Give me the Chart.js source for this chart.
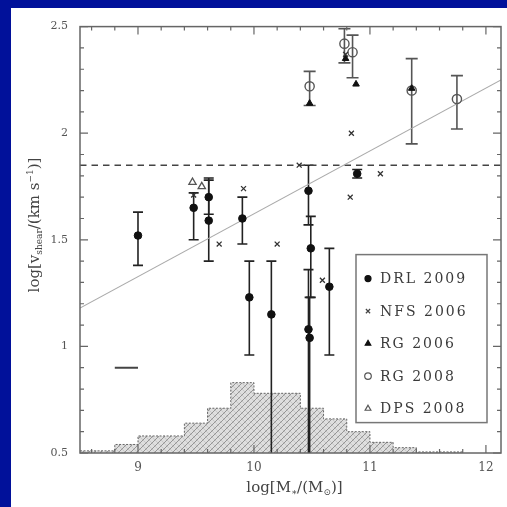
<!DOCTYPE html>
<html>
<head>
<meta charset="utf-8">
<script src="https://cdn.jsdelivr.net/npm/chart.js@4.4.1/dist/chart.umd.min.js"></script>
<style>
  html, body { margin: 0; padding: 0; }
  body { width: 507px; height: 507px; background: #01119a; overflow: hidden; position: relative; }
  #panel { position: absolute; left: 11px; top: 8px; width: 496px; height: 499px; background: #fff; }
</style>
</head>
<body>
<div id="panel"><canvas id="myChart" width="496" height="499"></canvas></div>
<script>
// DRL 2009 (filled circles with error bars)
const drlX  = [9.00, 9.48, 9.61, 9.61, 9.90, 9.96, 10.15, 10.47, 10.49, 10.47, 10.48, 10.65, 10.89];
const drlY  = [1.52, 1.65, 1.70, 1.59, 1.60, 1.23, 1.15, 1.73, 1.46, 1.08, 1.04, 1.28, 1.81];
const drlLo = [1.38, 1.50, 1.62, 1.40, 1.48, 0.96, 0.30, 1.57, 1.23, 0.30, 0.30, 0.96, 1.79];
const drlHi = [1.63, 1.72, 1.79, 1.78, 1.70, 1.40, 1.40, 1.85, 1.61, 1.36, 1.23, 1.46, 1.83];

// NFS 2006 (crosses)
const nfsX = [9.48, 9.70, 9.91, 10.20, 10.39, 10.59, 10.83, 10.84, 11.09, 10.79];
const nfsY = [1.71, 1.48, 1.74, 1.48, 1.85, 1.31, 1.70, 2.00, 1.81, 2.37];

// RG 2006 (filled triangles)
const rg06X = [10.48, 10.88, 11.36, 10.79];
const rg06Y = [2.14, 2.23, 2.21, 2.35];

// RG 2008 (open circles with error bars)
const rg08X  = [10.48, 10.78, 10.85, 11.36, 11.75];
const rg08Y  = [2.22, 2.42, 2.38, 2.20, 2.16];
const rg08Lo = [2.13, 2.33, 2.26, 1.95, 2.02];
const rg08Hi = [2.29, 2.49, 2.46, 2.35, 2.27];

// DPS 2008 (open triangles)
const dpsX = [9.47, 9.55];
const dpsY = [1.77, 1.75];

// fit line, threshold, typical error
const fitX = [8.5, 12.13];
const fitY = [1.18, 2.25];
const threshold = 1.85;
const typErrX = [8.8, 9.0];
const typErrY = 0.9;

// stellar mass histogram (bin edges and heights on the y scale)
const histEdges = [8.5, 8.8, 9.0, 9.2, 9.4, 9.6, 9.8, 10.0, 10.2, 10.4, 10.6, 10.8, 11.0, 11.2, 11.4, 11.8];
const histTop   = [0.51, 0.54, 0.58, 0.58, 0.64, 0.71, 0.83, 0.78, 0.78, 0.71, 0.66, 0.60, 0.55, 0.525, 0.505];

const xRange = [8.5, 12.13];
const yRange = [0.5, 2.5];

const legendItems = [
  { text: 'DRL 2009', pointStyle: 'circle', radius: 3, fill: '#111', stroke: '#111' },
  { text: 'NFS 2006', pointStyle: 'crossRot', radius: 3, fill: '#444', stroke: '#444' },
  { text: 'RG 2006', pointStyle: 'triangle', radius: 3.2, fill: '#111', stroke: '#111' },
  { text: 'RG 2008', pointStyle: 'circle', radius: 3.3, fill: 'rgba(0,0,0,0)', stroke: '#555' },
  { text: 'DPS 2008', pointStyle: 'triangle', radius: 3.3, fill: 'rgba(0,0,0,0)', stroke: '#555' },
];

const zip = (xs, ys) => xs.map((x, i) => ({ x: x, y: ys[i] }));
const serif = '"DejaVu Serif", "Liberation Serif", serif';

const canvas = document.getElementById('myChart');
const ctx = canvas.getContext('2d');

const makeHatch = () => {
  const c = document.createElement('canvas');
  c.width = 6; c.height = 6;
  const g = c.getContext('2d');
  g.fillStyle = '#dedede';
  g.fillRect(0, 0, 6, 6);
  g.strokeStyle = '#8c8c8c';
  g.lineWidth = 0.9;
  g.beginPath();
  g.moveTo(0, 6); g.lineTo(6, 0);
  g.moveTo(-3, 3); g.lineTo(3, -3);
  g.moveTo(3, 9); g.lineTo(9, 3);
  g.stroke();
  g.strokeStyle = 'rgba(140,140,140,0.45)';
  g.lineWidth = 0.6;
  g.beginPath();
  g.moveTo(0, 0); g.lineTo(6, 6);
  g.stroke();
  return ctx.createPattern(c, 'repeat');
};

// each bin height starts at its left edge, the last point closes the final bin
const histData = histTop.map((y, i) => ({ x: histEdges[i], y: y }));
histData.push({ x: histEdges[histEdges.length - 1], y: histTop[histTop.length - 1] });

const errorSets = [
  { xs: drlX, lo: drlLo, hi: drlHi, color: '#222', width: 1.6, cap: 5 },
  { xs: rg08X, lo: rg08Lo, hi: rg08Hi, color: '#555', width: 1.6, cap: 6 },
];

// error bars go right after the histogram so the markers sit on top
const errorBars = {
  id: 'errorBars',
  afterDatasetDraw(chart, args) {
    if (args.index !== 8) return;
    const { ctx, chartArea: a, scales: { x, y } } = chart;
    ctx.save();
    ctx.beginPath();
    ctx.rect(a.left, a.top, a.right - a.left, a.bottom - a.top);
    ctx.clip();
    errorSets.forEach((s) => {
      ctx.strokeStyle = s.color;
      ctx.lineWidth = s.width;
      s.xs.forEach((xv, i) => {
        const px = x.getPixelForValue(xv);
        const top = y.getPixelForValue(s.hi[i]);
        const bot = y.getPixelForValue(s.lo[i]);
        ctx.beginPath();
        ctx.moveTo(px, top); ctx.lineTo(px, bot);
        ctx.moveTo(px - s.cap, top); ctx.lineTo(px + s.cap, top);
        if (s.lo[i] > yRange[0]) { ctx.moveTo(px - s.cap, bot); ctx.lineTo(px + s.cap, bot); }
        ctx.stroke();
      });
    });
    ctx.restore();
  }
};

// boxed frame with inward ticks on all four sides
const frame = {
  id: 'frame',
  afterDraw(chart) {
    const { ctx, chartArea: a, scales: { x, y } } = chart;
    ctx.save();
    ctx.strokeStyle = '#666';
    ctx.lineWidth = 1.5;
    ctx.strokeRect(a.left, a.top, a.right - a.left, a.bottom - a.top);
    ctx.lineWidth = 1.2;
    ctx.beginPath();
    x.ticks.forEach((t) => {
      const px = x.getPixelForValue(t.value);
      const major = Math.abs(t.value - Math.round(t.value)) < 1e-6;
      const len = major ? 8 : 4;
      ctx.moveTo(px, a.bottom); ctx.lineTo(px, a.bottom - len);
      ctx.moveTo(px, a.top); ctx.lineTo(px, a.top + len);
    });
    y.ticks.forEach((t) => {
      const py = y.getPixelForValue(t.value);
      const major = Math.abs(t.value * 2 - Math.round(t.value * 2)) < 1e-6;
      const len = major ? 8 : 4;
      ctx.moveTo(a.left, py); ctx.lineTo(a.left + len, py);
      ctx.moveTo(a.right, py); ctx.lineTo(a.right - len, py);
    });
    ctx.stroke();
    ctx.restore();
  }
};

// writes a run of [text, shift] parts; shift -1 = superscript, 1 = subscript
const drawParts = (ctx, parts, size, cx, cy) => {
  const widths = parts.map(([s, k]) => {
    ctx.font = (k ? size * 0.6 : size) + 'px ' + serif;
    return ctx.measureText(s).width;
  });
  let px = cx - widths.reduce((a, b) => a + b, 0) / 2;
  parts.forEach(([s, k], i) => {
    ctx.font = (k ? size * 0.6 : size) + 'px ' + serif;
    ctx.fillText(s, px, cy + k * size * 0.3);
    px += widths[i];
  });
};

const axisTitles = {
  id: 'axisTitles',
  afterDraw(chart) {
    const { ctx, chartArea: a } = chart;
    ctx.save();
    ctx.fillStyle = '#444';
    ctx.textBaseline = 'middle';
    ctx.textAlign = 'left';
    drawParts(ctx, [['log[M', 0], ['∗', 1], ['/(M', 0], ['⊙', 1], [')]', 0]], 15, (a.left + a.right) / 2 + 4, 480);
    ctx.translate(24, 217);
    ctx.rotate(-Math.PI / 2);
    drawParts(ctx, [['log[v', 0], ['shear', 1], ['/(km s', 0], ['−1', -1], [')]', 0]], 15, 0, 0);
    ctx.restore();
  }
};

const boxLegend = {
  id: 'boxLegend',
  afterDraw(chart) {
    const { ctx, chartArea: a } = chart;
    const left = a.right - 145, top = a.top + 228, w = 131, h = 168;
    ctx.save();
    ctx.fillStyle = '#fff';
    ctx.fillRect(left, top, w, h);
    ctx.strokeStyle = '#777';
    ctx.lineWidth = 1.5;
    ctx.strokeRect(left, top, w, h);
    ctx.font = '14px ' + serif;
    ctx.letterSpacing = '2px';
    ctx.textBaseline = 'middle';
    legendItems.forEach((item, i) => {
      const cy = top + 24 + i * 32.5;
      ctx.fillStyle = item.fill;
      ctx.strokeStyle = item.stroke;
      ctx.lineWidth = 1.2;
      Chart.helpers.drawPoint(ctx, { pointStyle: item.pointStyle, radius: item.radius, rotation: 0, borderWidth: 1.2 }, left + 12, cy);
      ctx.fillStyle = '#3a3a3a';
      ctx.fillText(item.text, left + 24, cy + 1);
    });
    ctx.restore();
  }
};

new Chart(ctx, {
  type: 'scatter',
  data: {
    datasets: [
      { label: 'DRL 2009', data: zip(drlX, drlY), pointStyle: 'circle', pointRadius: 3.8,
        backgroundColor: '#111', borderColor: '#111', borderWidth: 1 },
      { label: 'NFS 2006', data: zip(nfsX, nfsY), pointStyle: 'crossRot', pointRadius: 3.5,
        borderColor: '#333', borderWidth: 1.3 },
      { label: 'RG 2006', data: zip(rg06X, rg06Y), pointStyle: 'triangle', pointRadius: 3.8,
        backgroundColor: '#111', borderColor: '#111', borderWidth: 1 },
      { label: 'RG 2008', data: zip(rg08X, rg08Y), pointStyle: 'circle', pointRadius: 4.6,
        backgroundColor: 'rgba(0,0,0,0)', borderColor: '#555', borderWidth: 1.4 },
      { label: 'DPS 2008', data: zip(dpsX, dpsY), pointStyle: 'triangle', pointRadius: 4.2,
        backgroundColor: 'rgba(0,0,0,0)', borderColor: '#555', borderWidth: 1.3 },
      { type: 'line', label: 'fit', data: zip(fitX, fitY), borderColor: '#aaa', borderWidth: 1.1,
        pointRadius: 0, fill: false },
      { type: 'line', label: 'limit', data: zip(xRange, [threshold, threshold]), borderColor: '#444',
        borderWidth: 1.5, borderDash: [6.5, 5], pointRadius: 0, fill: false },
      { type: 'line', label: 'typical error', data: zip(typErrX, [typErrY, typErrY]), borderColor: '#444',
        borderWidth: 2, pointRadius: 0, fill: false },
      { type: 'line', label: 'histogram', data: histData, stepped: 'before', borderColor: '#666',
        borderWidth: 1, borderDash: [2, 1.5], pointRadius: 0, fill: 'start', backgroundColor: makeHatch() },
    ]
  },
  options: {
    responsive: false,
    animation: false,
    layout: { padding: { top: 9, right: 1, left: 0, bottom: 0 } },
    plugins: { legend: { display: false }, tooltip: { enabled: false } },
    scales: {
      x: {
        type: 'linear', min: xRange[0], max: xRange[1],
        afterFit: (s) => { s.height = 54; },
        grid: { display: false, drawTicks: false },
        border: { display: false },
        ticks: {
          stepSize: 0.2, includeBounds: false, maxRotation: 0, autoSkip: false, padding: 8,
          color: '#555', font: { family: serif, size: 12 },
          callback: (v) => Math.abs(v - Math.round(v)) < 1e-6 ? String(Math.round(v)) : '',
        },
      },
      y: {
        type: 'linear', min: yRange[0], max: yRange[1],
        afterFit: (s) => { s.width = 69; },
        grid: { display: false, drawTicks: false },
        border: { display: false },
        ticks: {
          stepSize: 0.1, includeBounds: false, autoSkip: false, padding: 12,
          color: '#555', font: { family: serif, size: 11 },
          callback: (v) => Math.abs(v * 2 - Math.round(v * 2)) < 1e-6 ? String(Math.round(v * 2) / 2) : '',
        },
      },
    },
  },
  plugins: [errorBars, frame, axisTitles, boxLegend],
});
</script>
</body>
</html>
